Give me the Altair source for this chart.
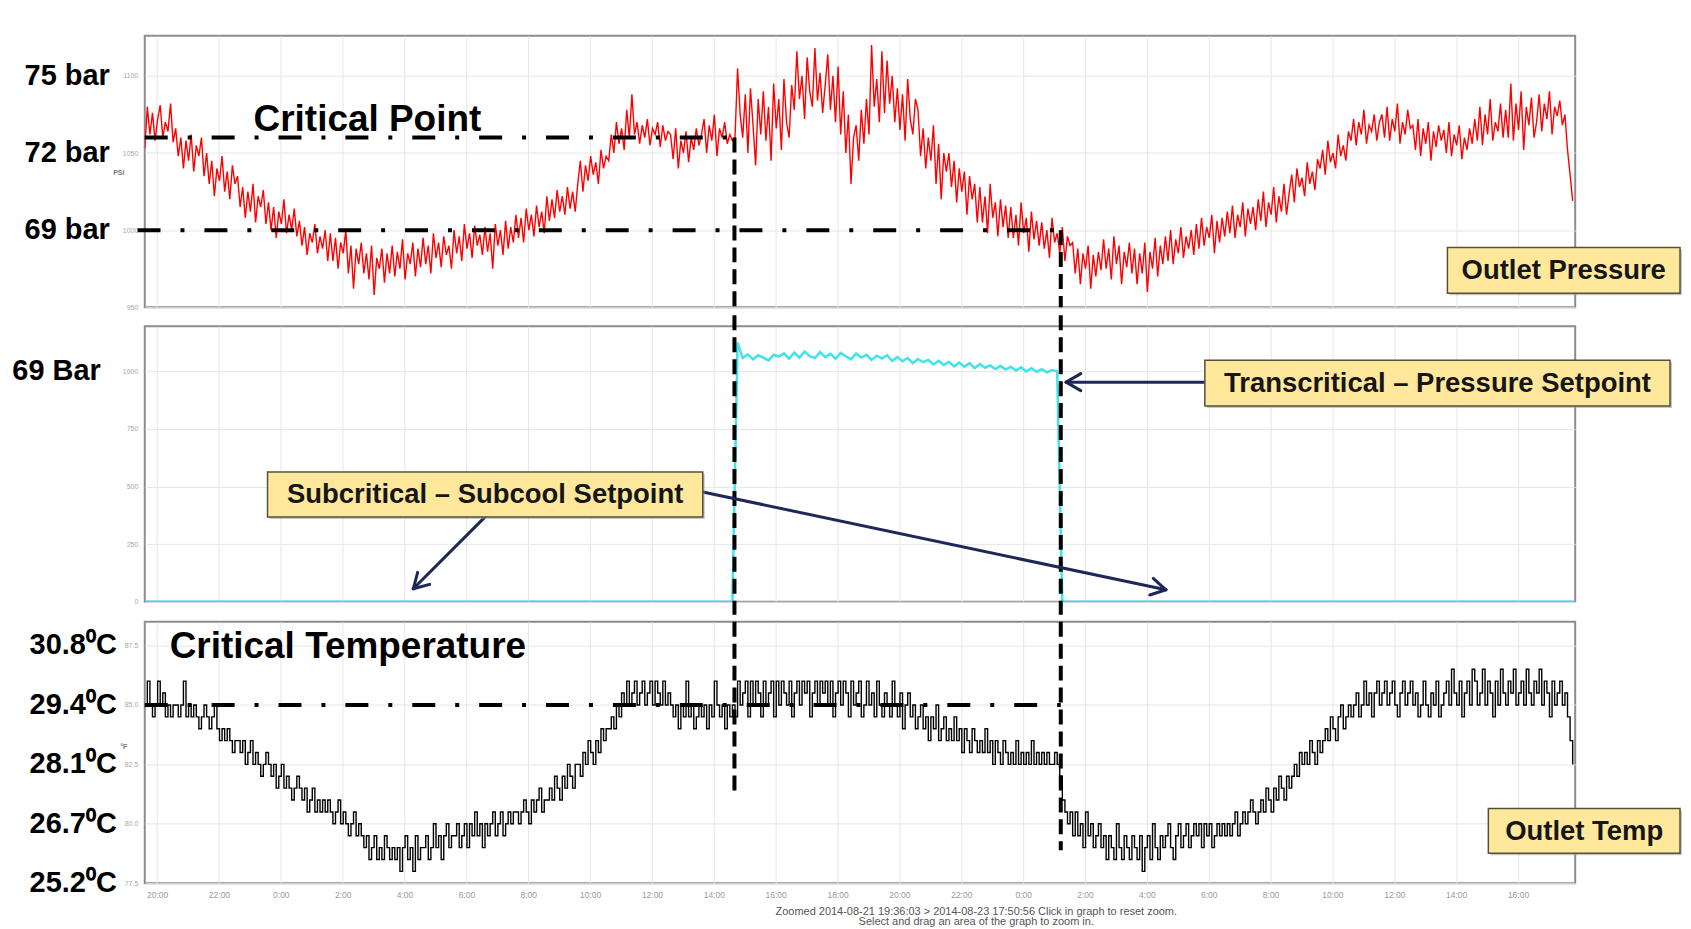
import math
import altair as alt
import pandas as pd

# ---------------- data ----------------
# time axis: hours elapsed since 2014-08-21 19:36:03 (zoom window ends 2014-08-23 17:50:56)
WINDOW_HOURS = 46.2481
START_CLOCK = 19.6009           # 19:36:03 as fractional hour of day
TICK_FIRST = 0.39917            # 20:00 relative to start
TRACE_MINUTES = 5               # pressure / temperature sampling
SETPOINT_MINUTES = 10           # setpoint sampling

# Outlet pressure (psi), every 5 minutes (12 per hour)
pressure_psi = [
    1053, 1080, 1062, 1076, 1058, 1072, 1081, 1060, 1070, 1064, 1082, 1057,
    1066, 1048, 1060, 1040, 1058, 1045, 1062, 1038, 1055, 1048, 1060, 1035,
    1050, 1030, 1045, 1022, 1040, 1032, 1048, 1025, 1038, 1020, 1042, 1030,
    1035, 1015, 1028, 1008, 1025, 1012, 1030, 1005, 1022, 1015, 1026, 1004,
    1018, 1000, 1015, 995, 1012, 1004, 1020, 998, 1010, 1000, 1014, 996,
    1006, 990, 1002, 984, 998, 992, 1004, 985, 996, 988, 1000, 980,
    998, 980, 995, 975, 992, 985, 1000, 972, 990, 962, 988, 978,
    992, 972, 985, 968, 990, 958, 982, 975, 988, 966, 985, 972,
    990, 970, 986, 975, 994, 968, 985, 978, 992, 970, 988, 976,
    995, 978, 990, 972, 998, 982, 992, 976, 996, 984, 990, 975,
    1000, 985, 996, 980, 1004, 988, 998, 982, 1003, 990, 997, 984,
    1002, 986, 998, 975, 1004, 990, 1000, 984, 1006, 988, 1002, 992,
    1010, 995, 1008, 992, 1014, 1000, 1010, 996, 1016, 1002, 1012, 998,
    1022, 1006, 1020, 1008, 1026, 1012, 1022, 1010, 1028, 1014, 1025, 1012,
    1030, 1045, 1025, 1042, 1032, 1048, 1036, 1044, 1030, 1052, 1040, 1048,
    1045, 1062, 1050, 1070, 1056, 1066, 1052, 1078, 1060, 1088, 1062, 1070,
    1056, 1068, 1060, 1072, 1055, 1066, 1062, 1070, 1054, 1068, 1058, 1064,
    1062, 1046, 1066, 1040, 1058, 1050, 1064, 1044, 1060, 1052, 1066, 1055,
    1062, 1072, 1050, 1068, 1058, 1075, 1048, 1066, 1060, 1070, 1056, 1062,
    1058, 1060, 1105, 1075, 1060, 1088, 1050, 1092, 1068, 1042, 1085, 1062,
    1090, 1058, 1080, 1045, 1095, 1066, 1085, 1052, 1098, 1070, 1060, 1094,
    1078, 1116, 1085, 1100, 1072, 1112, 1090, 1080, 1118, 1084, 1102, 1076,
    1094, 1114, 1078, 1100, 1070, 1106, 1062, 1090, 1050, 1075, 1030, 1060,
    1068, 1045, 1078, 1056, 1085, 1062, 1120, 1080, 1098, 1070, 1116, 1076,
    1110, 1082, 1100, 1070, 1092, 1065, 1088, 1058, 1098, 1072, 1062, 1085,
    1078, 1048, 1066, 1040, 1060, 1045, 1068, 1030, 1056, 1020, 1050, 1038,
    1050, 1028, 1045, 1018, 1040, 1025, 1038, 1010, 1035, 1020, 1030, 1005,
    1028, 1005, 1022, 998, 1030, 1008, 1018, 996, 1020, 1002, 1016, 995,
    1015, 995, 1010, 990, 1018, 998, 1008, 986, 1012, 994, 1006, 990,
    1005, 988, 1000, 982, 1008, 992, 998, 985, 1002, 980, 996, 990,
    992, 972, 988, 965, 985, 975, 990, 962, 984, 970, 986, 974,
    994, 975, 988, 968, 996, 978, 990, 965, 986, 976, 992, 972,
    988, 965, 985, 972, 992, 960, 986, 975, 995, 970, 990, 978,
    996, 980, 1000, 978, 994, 985, 1002, 982, 996, 988, 1000, 984,
    1004, 988, 1008, 990, 1002, 995, 1010, 985, 1006, 992, 1008, 996,
    1012, 998, 1016, 995, 1010, 1002, 1018, 996, 1014, 1004, 1015, 1000,
    1020, 1006, 1025, 1002, 1018, 1010, 1028, 1005, 1022, 1012, 1030, 1010,
    1024, 1036, 1018, 1040, 1028, 1034, 1022, 1044, 1030, 1038, 1026, 1046,
    1040, 1052, 1036, 1058, 1044, 1050, 1040, 1062, 1048, 1055, 1045, 1064,
    1058, 1072, 1055, 1070, 1062, 1078, 1056, 1068, 1064, 1075, 1058, 1070,
    1075, 1060, 1080, 1058, 1072, 1064, 1082, 1056, 1070, 1062, 1078, 1066,
    1068, 1052, 1072, 1048, 1066, 1056, 1070, 1045, 1064, 1054, 1068, 1058,
    1065, 1050, 1070, 1048, 1062, 1055, 1068, 1046, 1060, 1052, 1066, 1056,
    1072, 1058, 1080, 1055, 1075, 1062, 1085, 1058, 1070, 1064, 1082, 1060,
    1078, 1060, 1095, 1058, 1082, 1065, 1090, 1052, 1080, 1068, 1086, 1060,
    1070, 1088, 1064, 1082, 1072, 1090, 1062, 1080, 1074, 1084, 1068, 1075,
    1052, 1036, 1019,
]

# Outlet temperature (deg F), every 5 minutes
outlet_temp_f = [
    85, 86, 85, 84.5, 85, 86, 85, 85.5, 84.5, 85, 84.5, 85,
    85, 84.5, 85, 86, 84.5, 85, 84.5, 85, 84.5, 84, 84.5, 85,
    84.5, 84, 84.5, 85, 84, 83.5, 84, 83.5, 84, 83.5, 83, 83.5,
    83.5, 83, 83.5, 82.5, 83, 83.5, 82.5, 83, 82.5, 82, 82.5, 83,
    82.5, 82, 82.5, 81.5, 82, 82.5, 81.5, 82, 81.5, 81, 81.5, 82,
    81.5, 81, 81.5, 80.5, 81, 81.5, 80.5, 81, 80.5, 81, 80.5, 81,
    80.5, 80, 80.5, 81, 80, 80.5, 80, 79.5, 80, 80.5, 79.5, 80,
    79.5, 79, 79.5, 78.5, 79, 79.5, 78.5, 79, 78.5, 79.5, 79, 78.5,
    79, 78.5, 79, 78, 79, 79.5, 78.5, 79, 78, 79.5, 78.5, 79,
    79, 79.5, 78.5, 79, 80, 79, 79.5, 78.5, 79.5, 80, 79, 79.5,
    79.5, 80, 79, 79.5, 80, 79, 80, 79.5, 80.5, 79.5, 80, 79,
    80, 79.5, 80, 80.5, 79.5, 80, 80.5, 79.5, 80, 80.5, 80, 80.5,
    80.5, 80, 80.5, 81, 80.5, 80, 81, 80.5, 81, 81.5, 80.5, 81,
    81, 81.5, 81, 82, 81.5, 81, 82, 81.5, 82.5, 82, 81.5, 82.5,
    82.5, 82, 83, 82.5, 83.5, 83, 82.5, 83.5, 83, 84, 83.5, 84,
    84, 84.5, 84, 85, 84.5, 85.5, 85, 86, 85, 85.5, 86, 85,
    85.5, 86, 85, 85.5, 86, 85, 86, 85.5, 85, 86, 85, 85.5,
    85, 84.5, 85, 84, 85, 84.5, 86, 84.5, 85, 84, 84.5, 85,
    84.5, 85, 84, 85, 84.5, 86, 85, 84.5, 85, 84, 85, 84.5,
    85, 84.5, 86, 85, 85.5, 86, 84.5, 86, 85, 86, 85.5, 84.5,
    86, 85, 85.5, 86, 84.5, 86, 85, 86, 85.5, 85, 86, 84.5,
    85.5, 86, 85, 86, 85.5, 86, 84.5, 85.5, 86, 85, 86, 85.5,
    86, 85, 86, 84.5, 85.5, 86, 85, 86, 85.5, 84.5, 86, 85,
    85.5, 86, 84.5, 85, 86, 85, 85.5, 84.5, 86, 85, 84.5, 85.5,
    85, 84.5, 86, 85, 84.5, 85.5, 84, 85, 85.5, 84.5, 85, 84,
    84.5, 85, 84, 84.5, 83.5, 84.5, 84, 85, 83.5, 84, 84.5, 83.5,
    84, 83.5, 84.5, 83.5, 84, 83, 84, 83.5, 83, 84, 83.5, 83,
    83.5, 83, 84, 83, 83.5, 82.5, 83.5, 83, 82.5, 83.5, 83, 82.5,
    83, 82.5, 83.5, 82.5, 83, 82.5, 83, 82.5, 83.5, 82.5, 83, 82.5,
    83, 82.5, 83, 82.5, 82.5, 83, 82.5, 82, 81, 80.5, 80, 80.5,
    79.5, 80.5, 79.5, 80, 79, 80.5, 79.5, 80, 79, 79.5, 80, 79,
    79.5, 78.5, 79.5, 79, 78.5, 80, 79, 78.5, 79.5, 79, 78.5, 79.5,
    79, 78.5, 79.5, 78, 79, 79.5, 78.5, 80, 79, 78.5, 79.5, 79,
    79.5, 80, 79, 78.5, 79.5, 80, 79, 79.5, 80, 79, 79.5, 80,
    79.5, 80, 79, 80, 79.5, 80, 79, 79.5, 80, 79.5, 80, 79.5,
    80, 79.5, 80, 80.5, 79.5, 80, 80.5, 80, 80.5, 81, 80.5, 80,
    80.5, 81, 80.5, 81.5, 81, 80.5, 81.5, 81, 82, 81.5, 81, 82,
    81.5, 82, 82.5, 82, 83, 82.5, 83, 82.5, 83.5, 83, 82.5, 83.5,
    83, 83.5, 84, 83.5, 84.5, 84, 83.5, 84.5, 85, 84, 84.5, 85,
    84.5, 85, 85.5, 84.5, 85, 86, 85, 85.5, 84.5, 85.5, 86, 85,
    85.5, 86, 85, 85.5, 86, 85, 84.5, 85.5, 86, 85, 85.5, 86,
    85, 85.5, 84.5, 85, 86, 85, 84.5, 85.5, 85, 86, 84.5, 85,
    85.5, 86, 85, 86.5, 85.5, 85, 86, 84.5, 85.5, 86, 85, 86.5,
    86, 85, 85.5, 86.5, 85, 86, 85.5, 84.5, 86, 85, 86.5, 85.5,
    85, 86, 85.5, 86.5, 85, 85.5, 86, 85, 86.5, 85.5, 85, 86,
    85.5, 86.5, 85, 86, 85.5, 84.5, 86, 85, 85.5, 86, 85, 85.5,
    84.5, 83.5, 82.5,
]

# Pressure setpoint, every 10 minutes (transcritical mode only; 0 while subcritical)
setpoint_active = [
    1125,
    1058, 1074, 1052, 1070, 1060, 1048, 1072, 1064, 1078, 1055,
    1082, 1060, 1086, 1066, 1058, 1084, 1062, 1076, 1055, 1080,
    1066, 1052, 1078, 1060, 1072, 1050, 1068, 1056, 1070, 1046,
    1062, 1044, 1058, 1036, 1054, 1040, 1050, 1030, 1046, 1028,
    1042, 1022, 1038, 1020, 1036, 1014, 1032, 1016, 1026, 1010,
    1024, 1008, 1020, 1004, 1018, 1000, 1014, 998, 1010, 996, 1006, 1000,
]
SETPOINT_FIRST = 115
SETPOINT_COUNT = 278
setpoint = ([0] * SETPOINT_FIRST + setpoint_active
            + [0] * (SETPOINT_COUNT - SETPOINT_FIRST - len(setpoint_active)))

bar_ticks = [1100, 1050, 1000]
bar_labels = ["75 bar", "72 bar", "69 bar"]
sp_ticks = [1000]
sp_labels = ["69 Bar"]
temp_ticks = [87.5, 85.0, 82.5, 80.0, 77.5]
temp_labels = ["30.8⁰C", "29.4⁰C", "28.1⁰C", "26.7⁰C", "25.2⁰C"]

# annotation instants (hours since start)
H_PRE = -0.233     # 19:22
H_V1 = 19.066      # 2014-08-22 14:40
H_V2 = 29.616      # 2014-08-23 01:13

df = pd.DataFrame({"h": [i * TRACE_MINUTES / 60 for i in range(len(pressure_psi))],
                   "pressure": pressure_psi, "temp": outlet_temp_f})
df_sp = pd.DataFrame({"h": [i * SETPOINT_MINUTES / 60 for i in range(len(setpoint))],
                      "setpoint": setpoint})
tick_hours = [TICK_FIRST + 2 * k for k in range(23)]

# ---------------- style ----------------
FONT = "Liberation Sans"
W = 1433
H1, H2, H3 = 272, 276, 262
GRID = "#e6e6e6"
NAVY = "#1d2859"
BOX_FILL = "#ffe89c"
BOX_STROKE = "#55503a"
BOX_FONT = 27.5

xs = alt.Scale(domain=[0, WINDOW_HOURS], nice=False, zero=False)
x_grid_axis = alt.Axis(values=tick_hours, labels=False, ticks=False, domain=False, grid=True,
                       title=None, gridColor=GRID)
x_bottom_axis = alt.Axis(values=tick_hours, labels=True, ticks=False, domain=False, grid=True,
                         title=None, gridColor=GRID,
                         labelExpr=f"(floor(datum.value + {START_CLOCK}) % 24) + ':00'",
                         labelFontSize=8.5, labelColor="#9a9a9a", labelPadding=7,
                         labelFont=FONT)


def one():
    return alt.Data(values=[{"a": 1}])


def small_y_axis(values, fmt="d"):
    return alt.Axis(values=values, format=fmt, ticks=False, domain=False, grid=True,
                    gridColor=GRID, labelFontSize=7, labelColor="#a8a8a8", labelPadding=7,
                    labelFont=FONT, title=None)


def small_text(x, y, label):
    return alt.Chart(one()).mark_text(font=FONT, fontSize=7, fontWeight="bold",
                                      color="#777777", align="center", baseline="middle").encode(
        x=alt.value(x), y=alt.value(y), text=alt.value(label))


def anchor(x, y):
    return alt.Chart(one()).mark_rule(opacity=0, strokeWidth=1).encode(
        x=alt.value(x), x2=alt.value(x), y=alt.value(y), y2=alt.value(y + 1))


def box(x1, x2, y1, y2, label, size=BOX_FONT):
    shadow = alt.Chart(one()).mark_rect(color="#9a9a9a", opacity=0.55).encode(
        x=alt.value(x1 + 2), x2=alt.value(x2 + 2), y=alt.value(y1 + 2), y2=alt.value(y2 + 2))
    rect = alt.Chart(one()).mark_rect(fill=BOX_FILL, stroke=BOX_STROKE, strokeWidth=1.5).encode(
        x=alt.value(x1), x2=alt.value(x2), y=alt.value(y1), y2=alt.value(y2))
    text = alt.Chart(one()).mark_text(font=FONT, fontSize=size, fontWeight="bold",
                                      color="#161616", align="center", baseline="middle").encode(
        x=alt.value((x1 + x2) / 2), y=alt.value((y1 + y2) / 2 + 1), text=alt.value(label))
    return [shadow, rect, text]


def seg(x1, y1, x2, y2, width=3):
    return alt.Chart(one()).mark_rule(color=NAVY, strokeWidth=width, strokeCap="round").encode(
        x=alt.value(x1), y=alt.value(y1), x2=alt.value(x2), y2=alt.value(y2))


def arrow(x1, y1, x2, y2, arm=17, spread=30):
    theta = math.atan2(y2 - y1, x2 - x1)
    layers = [seg(x1, y1, x2, y2)]
    for s in (-1, 1):
        a = theta + math.pi + s * math.radians(spread)
        layers.append(seg(x2, y2, x2 + arm * math.cos(a), y2 + arm * math.sin(a)))
    return layers


def dashdot(h_from, h_to, yval):
    d = alt.Data(values=[{"h1": h_from, "h2": h_to, "v": yval}])
    return alt.Chart(d).mark_rule(color="black", strokeWidth=4,
                                  strokeDash=[23, 20, 4, 20]).encode(
        x=alt.X("h1:Q", title=None), x2="h2:Q", y=alt.Y("v:Q", title=None))


def vdash_data(h, vtop, ybot):
    d = alt.Data(values=[{"h": h, "v": vtop}])
    return alt.Chart(d).mark_rule(color="black", strokeWidth=4, strokeDash=[15, 7]).encode(
        x=alt.X("h:Q", title=None), y=alt.Y("v:Q", title=None), y2=alt.value(ybot))


def vdash_px(h, ytop, ybot):
    d = alt.Data(values=[{"h": h}])
    return alt.Chart(d).mark_rule(color="black", strokeWidth=4, strokeDash=[15, 7]).encode(
        x=alt.X("h:Q", title=None), y=alt.value(ytop), y2=alt.value(ybot))


def big_labels(ticks, labels, xoff):
    return alt.Chart(pd.DataFrame({"v": ticks, "t": labels})).mark_text(
        font=FONT, fontSize=29, fontWeight="bold", color="black",
        align="right", baseline="middle").encode(
        x=alt.value(xoff), y=alt.Y("v:Q", title=None), text="t:N")


# ---------------- panel 1: outlet pressure ----------------
y1s = alt.Scale(domain=[950, 1126], nice=False, zero=False)
p1_line = alt.Chart(df).mark_line(color="#ff0000", strokeWidth=1.4, clip=True).encode(
    x=alt.X("h:Q", scale=xs, axis=x_grid_axis),
    y=alt.Y("pressure:Q", scale=y1s, axis=small_y_axis([950, 1000, 1050, 1100])))
crit_text = alt.Chart(one()).mark_text(font=FONT, fontSize=37, fontWeight="bold",
                                       color="black", align="left", baseline="middle").encode(
    x=alt.value(109), y=alt.value(84), text=alt.value("Critical Point"))
panel1 = alt.layer(
    p1_line,
    dashdot(0, H_V1, 1060),
    dashdot(H_PRE, H_V2, 1000),
    vdash_data(H_V1, 1060, H1),
    vdash_data(H_V2, 1000, H1),
    crit_text,
    big_labels(bar_ticks, bar_labels, -35),
    small_text(-26, 137, "PSI"),
    *box(1305, 1538, 212, 258, "Outlet Pressure"),
    anchor(-136, -26),
).properties(width=W, height=H1)

# ---------------- panel 2: pressure setpoint ----------------
y2s = alt.Scale(domain=[0, 1196], nice=False, zero=False)
p2_line = alt.Chart(df_sp).mark_line(color="#3ee3ec", strokeWidth=2.5, clip=True).encode(
    x=alt.X("h:Q", scale=xs, axis=x_grid_axis),
    y=alt.Y("setpoint:Q", scale=y2s, axis=small_y_axis([0, 250, 500, 750, 1000])))
panel2 = alt.layer(
    p2_line,
    vdash_px(H_V1, -11, 289),
    vdash_px(H_V2, -11, 289),
    big_labels(sp_ticks, sp_labels, -44),
    *arrow(341, 191, 269, 263),
    *arrow(559, 166, 1023, 264),
    *arrow(1062, 56, 923, 56),
    *box(123, 559, 146, 191, "Subcritical – Subcool Setpoint"),
    *box(1062, 1528, 34, 80, "Transcritical – Pressure Setpoint"),
    anchor(-136, 100),
).properties(width=W, height=H2)

# ---------------- panel 3: outlet temperature ----------------
y3s = alt.Scale(domain=[77.5, 88.5], nice=False, zero=False)
p3_line = alt.Chart(df).mark_line(color="#000000", strokeWidth=1.4, interpolate="step-after",
                                  clip=True).encode(
    x=alt.X("h:Q", scale=xs, axis=x_bottom_axis),
    y=alt.Y("temp:Q", scale=y3s, axis=small_y_axis(temp_ticks, fmt=".1f")))
crit_temp_text = alt.Chart(one()).mark_text(font=FONT, fontSize=37, fontWeight="bold",
                                            color="black", align="left", baseline="middle").encode(
    x=alt.value(25), y=alt.value(25), text=alt.value("Critical Temperature"))
footer1 = alt.Chart(one()).mark_text(font=FONT, fontSize=11, color="#555555",
                                     align="center", baseline="middle").encode(
    x=alt.value(833), y=alt.value(291),
    text=alt.value("Zoomed 2014-08-21 19:36:03 > 2014-08-23 17:50:56  Click in graph to reset zoom."))
footer2 = alt.Chart(one()).mark_text(font=FONT, fontSize=11, color="#555555",
                                     align="center", baseline="middle").encode(
    x=alt.value(833), y=alt.value(301),
    text=alt.value("Select and drag an area of the graph to zoom in."))
panel3 = alt.layer(
    p3_line,
    dashdot(0, H_V2, 85.0),
    crit_temp_text,
    big_labels(temp_ticks, temp_labels, -28),
    small_text(-21, 126, "°F"),
    *box(1346, 1538, 187, 232, "Outlet Temp"),
    vdash_px(H_V1, 0, 170),
    vdash_px(H_V2, 0, 229),
    footer1, footer2,
    anchor(-136, 100),
).properties(width=W, height=H3)

chart = alt.vconcat(panel1, panel2, panel3, spacing=1).properties(
    padding={"left": 0, "top": 0, "right": 0, "bottom": 0}
).configure(background="white").configure_view(stroke="#8c8c8c", strokeWidth=2)

chart.save("out.html", embed_options={"renderer": "svg", "actions": False})
